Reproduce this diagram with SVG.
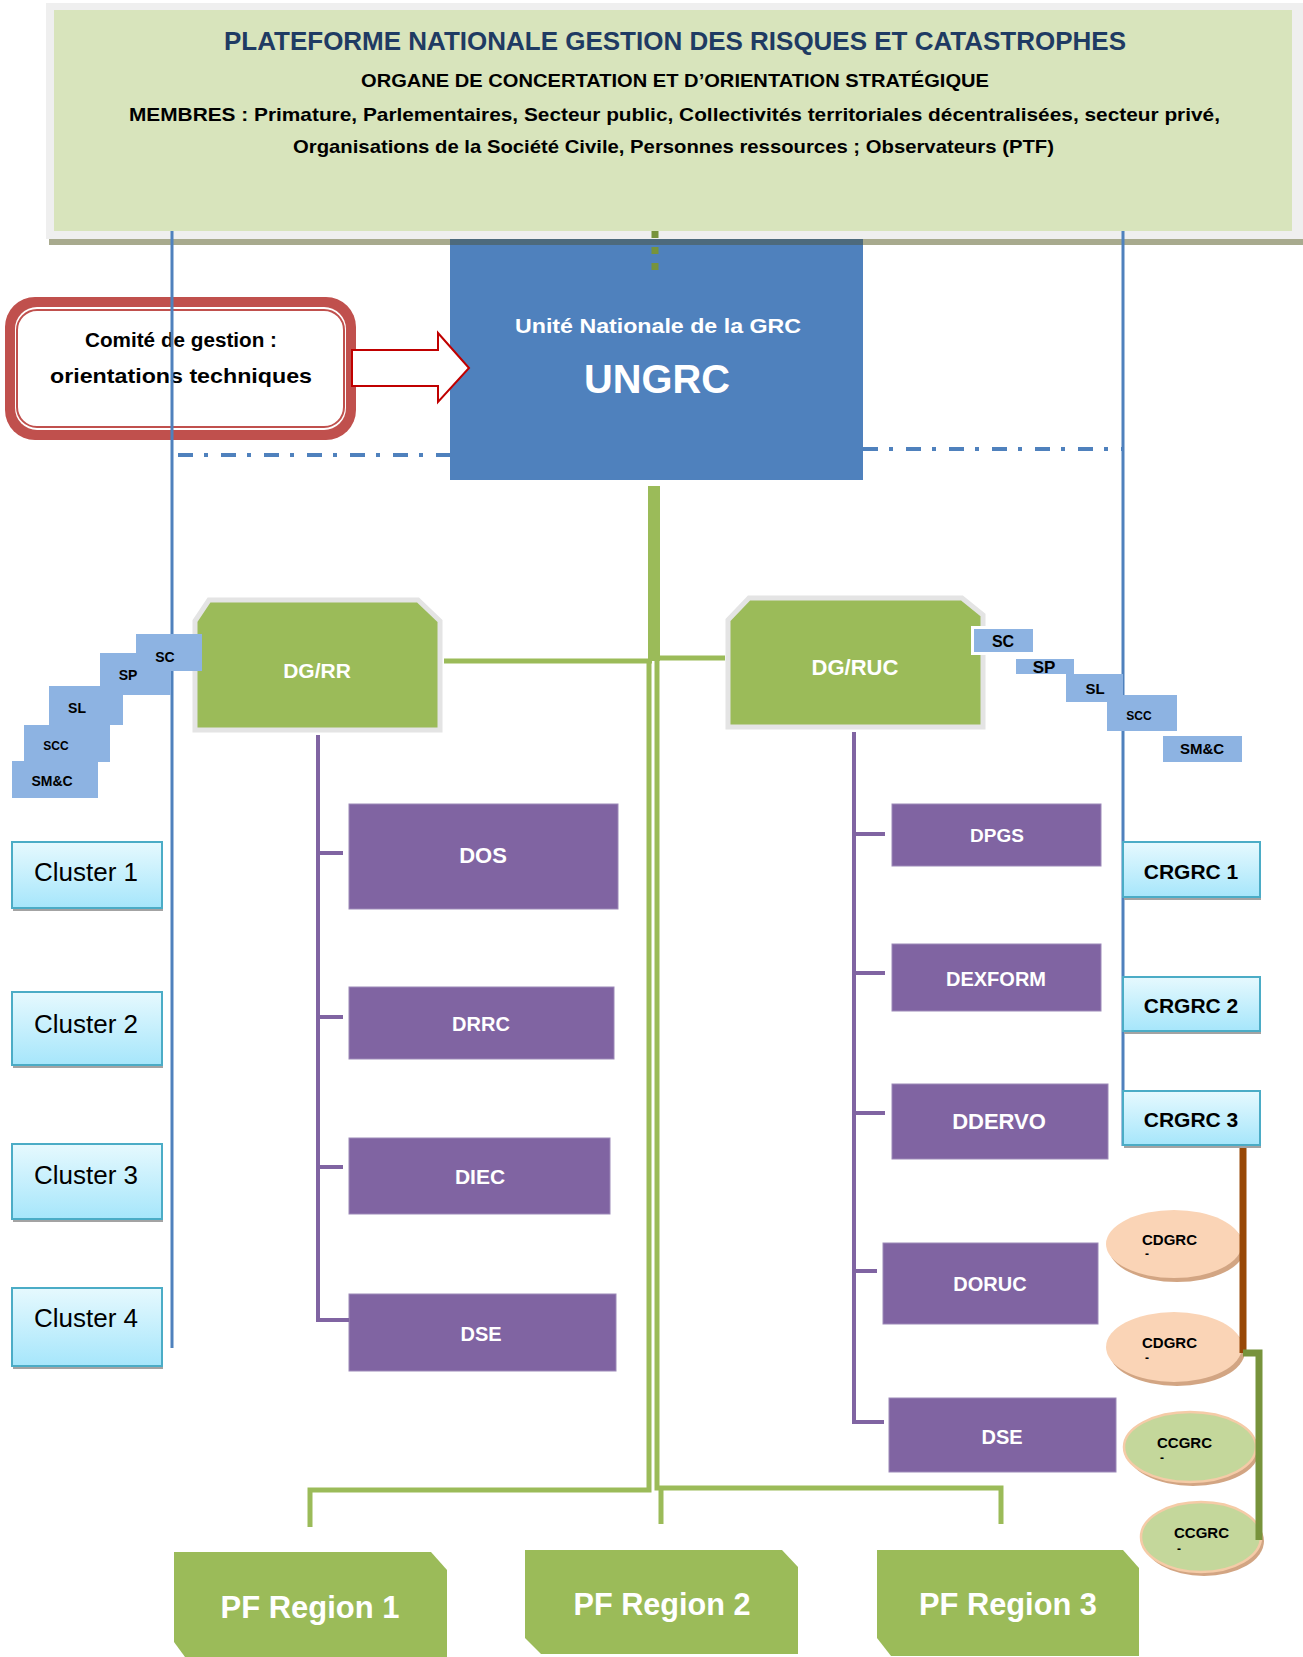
<svg xmlns="http://www.w3.org/2000/svg" width="1303" height="1657" viewBox="0 0 1303 1657">
<defs>
<linearGradient id="cy" x1="0" y1="0" x2="0" y2="1">
<stop offset="0" stop-color="#E6F9FE"/>
<stop offset="1" stop-color="#A6E6FB"/>
</linearGradient>
<style>
.f{font-family:"Liberation Sans",Arial,sans-serif;font-weight:bold}
.r{font-family:"Liberation Sans",Arial,sans-serif;font-weight:normal}
.w{fill:#FFFFFF}
.k{fill:#000000}
.mid{text-anchor:middle}
.grn{fill:#9BBB59;stroke:#E4E4E4;stroke-width:5}
.pur{fill:#8064A2;stroke:#9C89B8;stroke-width:1}
.sq{fill:#8DB3E2}
.cl{fill:url(#cy);stroke:#4BACC6;stroke-width:2}
.sh{fill:#A3A3A3}
.pf{fill:#9BBB59}
.bl{stroke:#4F81BD;stroke-width:3;fill:none}
.dd{stroke:#4F81BD;stroke-width:4;fill:none;stroke-dasharray:15 11 4 13}
.gl{stroke:#9BBB59;stroke-width:5;fill:none}
.pl{stroke:#8064A2;stroke-width:4;fill:none}
</style>
</defs>
<rect width="1303" height="1657" fill="#FFFFFF"/>

<g id="banner">
<rect x="46" y="3" width="1257" height="236" fill="#EFEFEF"/>
<rect x="54" y="10" width="1238" height="221" fill="#D8E4BC"/>
<rect x="49" y="239" width="1254" height="6" fill="#A8AA8E"/>
<text class="f mid" x="675" y="50" font-size="26" fill="#1F3B63" textLength="902" lengthAdjust="spacingAndGlyphs">PLATEFORME NATIONALE GESTION DES RISQUES ET CATASTROPHES</text>
<text class="f mid k" x="675" y="87" font-size="19" textLength="628" lengthAdjust="spacingAndGlyphs">ORGANE DE CONCERTATION ET D’ORIENTATION STRATÉGIQUE</text>
<text class="f mid k" x="674.5" y="121" font-size="19" textLength="1091" lengthAdjust="spacingAndGlyphs">MEMBRES : Primature, Parlementaires, Secteur public, Collectivités territoriales décentralisées, secteur privé,</text>
<text class="f mid k" x="673.5" y="153" font-size="19" textLength="761" lengthAdjust="spacingAndGlyphs">Organisations de la Société Civile, Personnes ressources ; Observateurs (PTF)</text>
</g>

<g id="ungrc">
<rect x="450" y="239" width="413" height="241" fill="#4F81BD"/>
<rect x="450" y="239" width="413" height="6" fill="#4D6A7C"/>
<text class="f mid w" x="658" y="333" font-size="21" textLength="286" lengthAdjust="spacingAndGlyphs">Unité Nationale de la GRC</text>
<text class="f mid w" x="657" y="393" font-size="40" textLength="146" lengthAdjust="spacingAndGlyphs">UNGRC</text>
</g>

<g id="comite">
<rect x="5" y="297" width="351" height="143" rx="30" fill="#C0504D"/>
<rect x="15" y="307" width="331" height="123" rx="22" fill="#FFFFFF"/>
<rect x="17" y="310" width="327" height="117" rx="20" fill="#FFFFFF" stroke="#C0504D" stroke-width="2"/>
<text class="f mid k" x="181" y="347" font-size="20" textLength="192" lengthAdjust="spacingAndGlyphs">Comité de gestion :</text>
<text class="f mid k" x="181" y="383" font-size="21" textLength="262" lengthAdjust="spacingAndGlyphs">orientations techniques</text>
</g>

<g id="arrow">
<polygon points="352,350 438,350 438,333 469,368 438,402 438,386 352,386" fill="#FFFFFF" stroke="#C00000" stroke-width="2"/>
</g>

<g id="dgrr">
<polygon class="grn" points="195,621 209,600 418,600 440,621 440,730 195,730"/>
<text class="f mid w" x="317" y="678" font-size="21">DG/RR</text>
</g>

<g id="dgruc">
<polygon class="grn" points="728,620 749,598 962,598 983,615 983,727 728,727"/>
<text class="f mid w" x="855" y="675" font-size="22">DG/RUC</text>
</g>

<g id="dos"><rect class="pur" x="349" y="804" width="269" height="105"/><text class="f mid w" x="483" y="863" font-size="22">DOS</text></g>
<g id="drrc"><rect class="pur" x="349" y="987" width="265" height="72"/><text class="f mid w" x="481" y="1031" font-size="20">DRRC</text></g>
<g id="diec"><rect class="pur" x="349" y="1138" width="261" height="76"/><text class="f mid w" x="480" y="1184" font-size="21">DIEC</text></g>
<g id="dse1"><rect class="pur" x="349" y="1294" width="267" height="77"/><text class="f mid w" x="481" y="1341" font-size="20">DSE</text></g>

<g id="dpgs"><rect class="pur" x="892" y="804" width="209" height="62"/><text class="f mid w" x="997" y="842" font-size="19">DPGS</text></g>
<g id="dexform"><rect class="pur" x="892" y="944" width="209" height="67"/><text class="f mid w" x="996" y="986" font-size="20">DEXFORM</text></g>
<g id="ddervo"><rect class="pur" x="892" y="1084" width="216" height="75"/><text class="f mid w" x="999" y="1129" font-size="22">DDERVO</text></g>
<g id="doruc"><rect class="pur" x="883" y="1243" width="215" height="81"/><text class="f mid w" x="990" y="1291" font-size="20">DORUC</text></g>
<g id="dse2"><rect class="pur" x="889" y="1398" width="227" height="74"/><text class="f mid w" x="1002" y="1444" font-size="20">DSE</text></g>

<g id="cluster1"><rect class="sh" x="13" y="845" width="150" height="66"/><rect class="cl" x="12" y="842" width="150" height="66"/><text class="r mid k" x="86" y="881" font-size="26">Cluster 1</text></g>
<g id="cluster2"><rect class="sh" x="13" y="995" width="150" height="73"/><rect class="cl" x="12" y="992" width="150" height="73"/><text class="r mid k" x="86" y="1033" font-size="26">Cluster 2</text></g>
<g id="cluster3"><rect class="sh" x="13" y="1147" width="150" height="75"/><rect class="cl" x="12" y="1144" width="150" height="75"/><text class="r mid k" x="86" y="1184" font-size="26">Cluster 3</text></g>
<g id="cluster4"><rect class="sh" x="13" y="1291" width="150" height="78"/><rect class="cl" x="12" y="1288" width="150" height="78"/><text class="r mid k" x="86" y="1327" font-size="26">Cluster 4</text></g>

<g id="cdgrc1">
<ellipse cx="1177" cy="1248" rx="68" ry="34" fill="#D2A583"/>
<ellipse cx="1174" cy="1244" rx="68" ry="34" fill="#FAD4B6"/>
<text class="f k" x="1142" y="1245" font-size="15">CDGRC</text>
<text class="f k" x="1145" y="1258" font-size="12">-</text>
</g>
<g id="cdgrc2">
<ellipse cx="1177" cy="1351" rx="68" ry="35" fill="#D2A583"/>
<ellipse cx="1174" cy="1347" rx="68" ry="35" fill="#FAD4B6"/>
<text class="f k" x="1142" y="1348" font-size="15">CDGRC</text>
<text class="f k" x="1145" y="1362" font-size="12">-</text>
</g>
<g id="ccgrc1">
<ellipse cx="1193" cy="1451" rx="66" ry="35" fill="#D2A583"/>
<ellipse cx="1190" cy="1447" rx="66" ry="35" fill="#C4D79B" stroke="#F5CBA7" stroke-width="2.5"/>
<text class="f k" x="1157" y="1448" font-size="15">CCGRC</text>
<text class="f k" x="1160" y="1462" font-size="12">-</text>
</g>
<g id="ccgrc2">
<ellipse cx="1204" cy="1541" rx="60" ry="35" fill="#D2A583"/>
<ellipse cx="1201" cy="1537" rx="60" ry="35" fill="#C4D79B" stroke="#F5CBA7" stroke-width="2.5"/>
<text class="f k" x="1174" y="1538" font-size="15">CCGRC</text>
<text class="f k" x="1177" y="1553" font-size="12">-</text>
</g>

<g id="pf1"><polygon class="pf" points="174,1552 431,1552 447,1570 447,1657 185,1657 174,1642"/><text class="f mid w" x="310" y="1618" font-size="31" textLength="179" lengthAdjust="spacingAndGlyphs">PF Region 1</text></g>
<g id="pf2"><polygon class="pf" points="525,1550 782,1550 798,1567 798,1654 541,1654 525,1638"/><text class="f mid w" x="662" y="1615" font-size="31" textLength="177" lengthAdjust="spacingAndGlyphs">PF Region 2</text></g>
<g id="pf3"><polygon class="pf" points="877,1550 1123,1550 1139,1568 1139,1656 891,1656 877,1638"/><text class="f mid w" x="1008" y="1615" font-size="31" textLength="178" lengthAdjust="spacingAndGlyphs">PF Region 3</text></g>

<g id="connectors">
<line x1="655" y1="231" x2="655" y2="271" stroke="#77933C" stroke-width="7" stroke-dasharray="7 9"/>
<line class="bl" x1="172" y1="231" x2="172" y2="1348"/>
<line class="bl" x1="1123" y1="231" x2="1123" y2="1146"/>
<line class="dd" x1="178" y1="455" x2="450" y2="455"/>
<line class="dd" x1="450" y1="455" x2="517" y2="455" stroke="#6E97CC"/>
<line class="dd" x1="783" y1="449" x2="863" y2="449" stroke="#6E97CC"/>
<line class="dd" x1="863" y1="449" x2="1123" y2="449"/>
<rect x="648" y="486" width="12" height="175" fill="#9BBB59"/>
<line class="gl" x1="444" y1="661" x2="652" y2="661"/>
<line class="gl" x1="657" y1="658" x2="725" y2="658"/>
<polyline class="gl" points="649,661 649,1490 310,1490 310,1527"/>
<polyline class="gl" points="657,661 657,1488 1001,1488 1001,1524"/>
<line class="gl" x1="661" y1="1488" x2="661" y2="1524"/>
<polyline class="pl" points="318,735 318,1320 349,1320"/>
<line class="pl" x1="318" y1="853" x2="343" y2="853"/>
<line class="pl" x1="318" y1="1017" x2="343" y2="1017"/>
<line class="pl" x1="318" y1="1167" x2="343" y2="1167"/>
<polyline class="pl" points="854,732 854,1422 884,1422"/>
<line class="pl" x1="854" y1="834" x2="885" y2="834"/>
<line class="pl" x1="854" y1="973" x2="885" y2="973"/>
<line class="pl" x1="854" y1="1113" x2="885" y2="1113"/>
<line class="pl" x1="854" y1="1271" x2="877" y2="1271"/>
<line x1="1243" y1="1145" x2="1243" y2="1353" stroke="#984807" stroke-width="7"/>
<polyline points="1243,1353 1259,1353 1259,1540" fill="none" stroke="#77933C" stroke-width="7"/>
</g>

<g id="crgrc1"><rect class="sh" x="1124" y="845" width="137" height="55"/><rect class="cl" x="1123" y="842" width="137" height="55"/><text class="f mid k" x="1191" y="879" font-size="21">CRGRC 1</text></g>
<g id="crgrc2"><rect class="sh" x="1124" y="980" width="137" height="54"/><rect class="cl" x="1123" y="977" width="137" height="54"/><text class="f mid k" x="1191" y="1013" font-size="21">CRGRC 2</text></g>
<g id="crgrc3"><rect class="sh" x="1124" y="1094" width="137" height="54"/><rect class="cl" x="1123" y="1091" width="137" height="54"/><text class="f mid k" x="1191" y="1127" font-size="21">CRGRC 3</text></g>

<g id="side-left">
<rect class="sq" x="100" y="653" width="71" height="42"/><text class="f mid k" x="128" y="680" font-size="14">SP</text>
<rect class="sq" x="136" y="634" width="66" height="37"/><text class="f mid k" x="165" y="662" font-size="14">SC</text>
<rect class="sq" x="49" y="686" width="74" height="39"/><text class="f mid k" x="77" y="713" font-size="14">SL</text>
<rect class="sq" x="24" y="725" width="86" height="37"/><text class="f mid k" x="56" y="750" font-size="12">SCC</text>
<rect class="sq" x="12" y="761" width="86" height="37"/><text class="f mid k" x="52" y="786" font-size="14">SM&amp;C</text>
</g>
<g id="side-right">
<rect x="971" y="626" width="65" height="29" fill="#FFFFFF"/>
<rect class="sq" x="974" y="629" width="59" height="23"/><text class="f mid k" x="1003" y="647" font-size="16">SC</text>
<rect class="sq" x="1016" y="659" width="58" height="15"/><text class="f mid k" x="1044" y="673" font-size="17">SP</text>
<rect class="sq" x="1066" y="674" width="57" height="28"/><text class="f mid k" x="1095" y="694" font-size="15">SL</text>
<rect class="sq" x="1107" y="695" width="70" height="36"/><text class="f mid k" x="1139" y="720" font-size="12">SCC</text>
<rect class="sq" x="1163" y="736" width="79" height="26"/><text class="f mid k" x="1202" y="754" font-size="15">SM&amp;C</text>
</g>
</svg>
